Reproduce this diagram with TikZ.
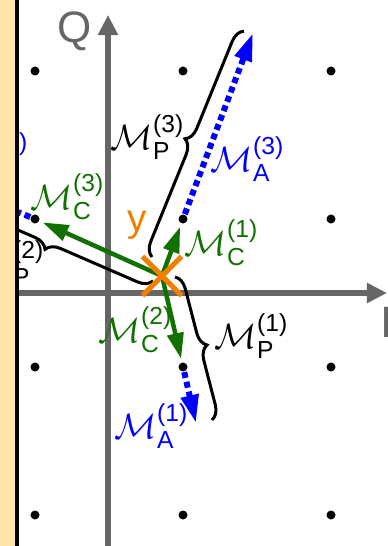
\documentclass[tikz,border=0pt]{standalone}
\usepackage{amsmath}
\usepackage{fontspec}
\setsansfont{Liberation Sans}
\usetikzlibrary{arrows.meta, shapes.misc, decorations.pathreplacing}
\definecolor{wallbeige}{RGB}{253,228,168}
\definecolor{axisgray}{RGB}{102,102,102}
\definecolor{cgreen}{RGB}{16,112,0}
\definecolor{pblue}{RGB}{0,0,255}
\definecolor{yorange}{RGB}{240,128,0}
\newcommand{\Mlab}[2]{$\mathcal{M}_{\textsf{#1}}^{\textsf{(#2)}}$}

\begin{document}
\begin{tikzpicture}[x=0.01cm, y=-0.01cm,
  axis/.style={draw=axisgray, line width=0.06cm, -{Triangle[length=0.2cm, width=0.19cm]}},
  axislab/.style={text=axisgray, inner sep=0pt, font=\sffamily\fontsize{12.5}{14}\selectfont},
  dot/.style={circle, fill=black, inner sep=0pt, minimum size=0.09cm},
  pbrace/.style={draw=black, line width=0.03cm, decorate, decoration={brace, amplitude=0.14cm}},
  amove/.style={draw=pblue, line width=0.06cm, dash pattern=on 0.06cm off 0.04cm, -{Triangle[length=0.28cm, width=0.17cm]}},
  cmove/.style={draw=cgreen, line width=0.045cm, -{Triangle[length=0.26cm, width=0.16cm]}, shorten >=0.03cm},
  ycross/.style={draw=yorange, cross out, line width=0.05cm, minimum size=0.34cm, inner sep=0pt},
  mlab/.style={inner sep=0pt, font=\fontsize{10}{12}\selectfont}
]
  \useasboundingbox (0,0) rectangle (387,546);

  % axes
  \coordinate (ibot) at (17,293);
  \coordinate (itop) at (387,293);
  \coordinate (qbot) at (108,546);
  \coordinate (qtop) at (108,15);
  \draw[axis] (ibot) -- (itop);
  \draw[axis] (qbot) -- (qtop);
  \node[axislab] (qlab) at (75,31) {Q};
  \node[axislab, anchor=west] (ilab) at (380,322) {I};

  % constellation points
  \foreach \i/\x in {1/35, 2/183, 3/331}
    \foreach \j/\y in {1/71, 2/219, 3/367, 4/515}
      \node[dot] (d-\i-\j) at (\x,\y) {};

  % braces
  \coordinate (p3a) at (152,257);
  \coordinate (p3b) at (244,31);
  \coordinate (p2a) at (153,281);
  \coordinate (p2b) at (-52,192);
  \coordinate (p1a) at (175,277);
  \coordinate (p1b) at (212,420);
  \draw[pbrace] (p3a) -- (p3b);
  \draw[pbrace] (p2a) -- (p2b);
  \draw[pbrace] (p1a) -- (p1b);

  % additive moves
  \coordinate (a3) at (253,33);
  \coordinate (a2) at (-22,196);
  \coordinate (a1) at (196,423);
  \draw[amove] (d-2-2) -- (a3);
  \draw[amove] (d-1-2) -- (a2);
  \draw[amove] (d-2-3) -- (a1);

  % received sample
  \coordinate (y) at (162,276);
  \draw[cmove] (y) -- (d-1-2);
  \draw[cmove] (y) -- (d-2-2);
  \draw[cmove] (y) -- (d-2-3);
  \node[ycross] (ymark) at (y) {};
  \node[text=yorange, inner sep=0pt, font=\sffamily\fontsize{11}{13}\selectfont] (ylab) at (137,225) {y};

  % labels
  \node[mlab] (mp3) at (148,137) {\Mlab{P}{3}};
  \node[mlab] (mp2) at (8,263) {\Mlab{P}{2}};
  \node[mlab] (mp1) at (252,336) {\Mlab{P}{1}};
  \node[mlab, text=pblue] (ma3) at (248,159) {\Mlab{A}{3}};
  \node[mlab, text=pblue] (ma2) at (-8,155) {\Mlab{A}{2}};
  \node[mlab, text=pblue] (ma1) at (152,426) {\Mlab{A}{1}};
  \node[mlab, text=cgreen] (mc3) at (68,197) {\Mlab{C}{3}};
  \node[mlab, text=cgreen] (mc1) at (222,243) {\Mlab{C}{1}};
  \node[mlab, text=cgreen] (mc2) at (136,330) {\Mlab{C}{2}};

  % boundary
  \fill[wallbeige] (0,0) rectangle (17,546);
  \draw[line width=0.04cm] (17,0) -- (17,546);
\end{tikzpicture}
\end{document}
